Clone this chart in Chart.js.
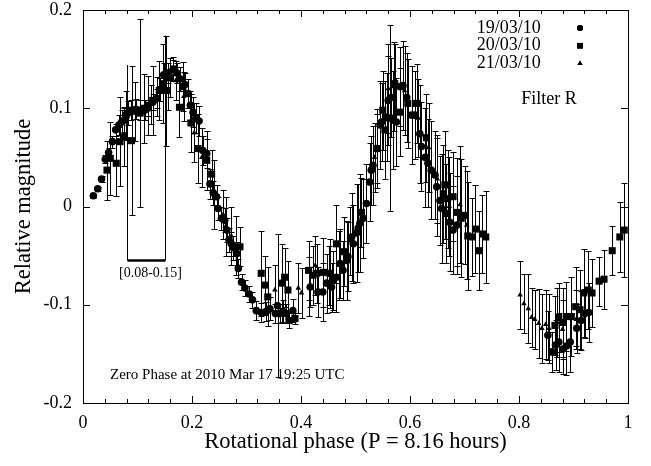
<!DOCTYPE html>
<html>
<head>
<meta charset="utf-8">
<script src="https://cdn.jsdelivr.net/npm/chart.js@4"></script>
<style>
  html, body { margin: 0; padding: 0; background: #fff; }
  #wrap { width: 651px; height: 466px; }
</style>
</head>
<body>
<div id="wrap"><canvas id="myChart"></canvas></div>
<script>
// night labels
const nights = ['19/03/10', '20/03/10', '21/03/10'];

// 19/03/10 : phase, relative magnitude, error
const phase_19 = [0.019, 0.027, 0.034, 0.041, 0.047, 0.054, 0.060, 0.066, 0.071, 0.076, 0.082, 0.088, 0.097, 0.104, 0.113, 0.119, 0.128, 0.135, 0.141, 0.148, 0.156, 0.165, 0.172, 0.178, 0.187, 0.193, 0.197, 0.202, 0.207, 0.213, 0.220, 0.227, 0.233, 0.239, 0.245, 0.248, 0.254, 0.260, 0.264, 0.268, 0.272, 0.276, 0.282, 0.285, 0.291, 0.297, 0.305, 0.311, 0.318, 0.327, 0.336, 0.343, 0.353, 0.357, 0.361, 0.367, 0.373, 0.385,
  0.417, 0.431, 0.440, 0.447, 0.456, 0.459, 0.465, 0.472, 0.477, 0.484, 0.486, 0.493, 0.496, 0.502, 0.505, 0.508, 0.514, 0.520, 0.526, 0.529, 0.532, 0.539, 0.545, 0.548, 0.557, 0.560, 0.566, 0.569, 0.575, 0.582, 0.587, 0.594, 0.603, 0.609, 0.618, 0.621, 0.628, 0.633, 0.639, 0.646, 0.649, 0.655, 0.658, 0.666, 0.673, 0.679, 0.686,
  0.853, 0.860, 0.867, 0.873, 0.881, 0.887, 0.894, 0.906, 0.914, 0.921, 0.928];
const mag_19 = [0.011, 0.018, 0.028, 0.048, 0.055, 0.066, 0.078, 0.083, 0.086, 0.088, 0.095, 0.098, 0.099, 0.098, 0.098, 0.100, 0.106, 0.110, 0.119, 0.134, 0.136, 0.139, 0.136, 0.130, 0.124, 0.115, 0.103, 0.096, 0.090, 0.087, 0.057, 0.054, 0.023, 0.014, 0.010, -0.002, -0.012, -0.014, -0.024, -0.034, -0.038, -0.042, -0.048, -0.063, -0.077, -0.083, -0.089, -0.095, -0.106, -0.108, -0.107, -0.104, -0.109, -0.101, -0.109, -0.107, -0.109, -0.106,
  -0.082, -0.087, -0.087, -0.078, -0.082, -0.075, -0.072, -0.058, -0.065, -0.055, -0.051, -0.031, -0.038, -0.027, -0.022, -0.017, -0.012, 0.003, 0.025, 0.037, 0.042, 0.059, 0.083, 0.086, 0.091, 0.108, 0.111, 0.088, 0.086, 0.122, 0.123, 0.111, 0.093, 0.093, 0.074, 0.061, 0.050, 0.044, 0.037, 0.032, 0.020, 0.006, -0.002, -0.007, -0.016, -0.024, -0.019,
  -0.131, -0.148, -0.141, -0.138, -0.145, -0.142, -0.138, -0.124, -0.116, -0.109, -0.108];
const err_19 = [0.002, 0.002, 0.003, 0.004, 0.005, 0.006, 0.006, 0.010, 0.012, 0.012, 0.012, 0.010, 0.010, 0.010, 0.010, 0.008, 0.008, 0.010, 0.012, 0.012, 0.010, 0.010, 0.010, 0.012, 0.012, 0.015, 0.015, 0.015, 0.015, 0.015, 0.015, 0.015, 0.015, 0.012, 0.012, 0.012, 0.012, 0.012, 0.012, 0.012, 0.012, 0.012, 0.012, 0.010, 0.008, 0.008, 0.008, 0.008, 0.010, 0.010, 0.010, 0.012, 0.010, 0.073, 0.010, 0.012, 0.010, 0.012,
  0.020, 0.025, 0.030, 0.030, 0.025, 0.030, 0.035, 0.035, 0.030, 0.040, 0.035, 0.045, 0.040, 0.050, 0.045, 0.050, 0.040, 0.040, 0.040, 0.035, 0.040, 0.040, 0.045, 0.040, 0.045, 0.045, 0.040, 0.050, 0.045, 0.040, 0.045, 0.045, 0.050, 0.045, 0.050, 0.045, 0.050, 0.045, 0.050, 0.045, 0.050, 0.045, 0.055, 0.050, 0.050, 0.045, 0.050,
  0.025, 0.020, 0.025, 0.030, 0.025, 0.030, 0.030, 0.025, 0.030, 0.025, 0.030];

// 20/03/10
const phase_20 = [0.044, 0.050, 0.061, 0.068, 0.076, 0.079, 0.089, 0.096, 0.105, 0.112, 0.120, 0.128, 0.140, 0.146, 0.153, 0.160, 0.166, 0.177, 0.183, 0.198, 0.211, 0.227, 0.236, 0.288,
  0.327, 0.334, 0.339, 0.365, 0.370, 0.376, 0.378, 0.389, 0.414, 0.422, 0.429, 0.441, 0.453, 0.465, 0.479, 0.511,
  0.539, 0.550, 0.554, 0.563, 0.572, 0.582, 0.596, 0.612, 0.630, 0.661, 0.664, 0.669, 0.679, 0.686, 0.694, 0.701, 0.706, 0.714, 0.720, 0.726, 0.733, 0.739,
  0.866, 0.873, 0.881, 0.887, 0.896, 0.904, 0.912, 0.919, 0.927, 0.934, 0.947, 0.956, 0.971, 0.985, 0.993];
const mag_20 = [0.037, 0.049, 0.044, 0.066, 0.071, 0.093, 0.067, 0.097, 0.095, 0.100, 0.103, 0.108, 0.118, 0.125, 0.118, 0.131, 0.140, 0.101, 0.122, 0.085, 0.059, 0.047, 0.033, -0.041,
  -0.068, -0.080, -0.092, -0.078, -0.072, -0.085, -0.116, -0.114, -0.065, -0.070, -0.068, -0.067, -0.068, -0.038, -0.046, -0.006,
  0.059, 0.098, 0.078, 0.090, 0.125, 0.096, 0.105, 0.105, 0.070, 0.013, 0.022, 0.008, 0.010, -0.006, -0.012, -0.009, -0.030, -0.031, -0.023, -0.045, -0.028, -0.031,
  -0.121, -0.113, -0.118, -0.112, -0.112, -0.102, -0.105, -0.088, -0.085, -0.088, -0.076, -0.074, -0.045, -0.031, -0.024];
const err_20 = [0.030, 0.037, 0.033, 0.045, 0.030, 0.025, 0.076, 0.030, 0.096, 0.035, 0.030, 0.035, 0.030, 0.040, 0.056, 0.020, 0.012, 0.030, 0.025, 0.030, 0.035, 0.030, 0.025, 0.020,
  0.043, 0.030, 0.030, 0.040, 0.030, 0.030, 0.008, 0.006, 0.030, 0.030, 0.030, 0.035, 0.035, 0.040, 0.035, 0.035,
  0.035, 0.040, 0.050, 0.095, 0.040, 0.045, 0.045, 0.040, 0.045, 0.050, 0.055, 0.050, 0.045, 0.055, 0.060, 0.050, 0.055, 0.040, 0.045, 0.040, 0.040, 0.047,
  0.030, 0.035, 0.035, 0.035, 0.040, 0.040, 0.040, 0.045, 0.040, 0.035, 0.025, 0.030, 0.025, 0.036, 0.048];

// 21/03/10
const phase_21 = [0.124, 0.136, 0.156, 0.170, 0.185, 0.204, 0.218, 0.240, 0.257, 0.262, 0.272, 0.280, 0.352, 0.395, 0.401, 0.415, 0.426, 0.452, 0.470, 0.490,
  0.535, 0.560, 0.570, 0.590, 0.615, 0.634, 0.650, 0.672, 0.692, 0.704,
  0.802, 0.809, 0.817, 0.823, 0.829, 0.836, 0.842, 0.849, 0.855, 0.870, 0.880, 0.905];
const mag_21 = [0.104, 0.112, 0.118, 0.128, 0.112, 0.075, 0.050, 0.012, -0.008, -0.020, -0.030, -0.040, -0.085, -0.083, -0.088, -0.081, -0.060, -0.070, -0.060, -0.035,
  0.050, 0.120, 0.122, 0.118, 0.090, 0.060, 0.028, 0.000, 0.002, -0.019,
  -0.090, -0.099, -0.104, -0.113, -0.115, -0.119, -0.124, -0.120, -0.124, -0.118, -0.125, -0.115];
const err_21 = [0.020, 0.020, 0.020, 0.020, 0.025, 0.030, 0.030, 0.035, 0.025, 0.030, 0.030, 0.030, 0.025, 0.025, 0.025, 0.030, 0.030, 0.030, 0.035, 0.035,
  0.035, 0.045, 0.045, 0.045, 0.040, 0.045, 0.045, 0.050, 0.060, 0.055,
  0.035, 0.030, 0.035, 0.030, 0.030, 0.035, 0.035, 0.035, 0.035, 0.035, 0.030, 0.030];

// axis ticks
const x_tick_labels = ['0', '0.2', '0.4', '0.6', '0.8', '1'];
const y_tick_labels = ['-0.2', '-0.1', '0', '0.1', '0.2'];

// annotations
const bracket_range = [0.08, 0.15];
const bracket_tops = [0.144, 0.174];
const bracket_level = -0.055;
const bracket_label = '[0.08-0.15]';
const zero_phase_text = 'Zero Phase at 2010 Mar 17 19:25 UTC';
const filter_text = 'Filter R';

const serif = "'Liberation Serif', 'Times New Roman', serif";

function make_points(px, py) {
    return px.map((v, i) => ({x: v, y: py[i]}));
}

// vertical error bars with small caps
const error_bars = {
    id: 'error_bars',
    beforeDatasetsDraw(chart) {
        const {ctx, scales: {x, y}} = chart;
        ctx.save();
        ctx.strokeStyle = '#000';
        ctx.lineWidth = 1;
        chart.data.datasets.forEach(ds => {
            ds.data.forEach((p, i) => {
                const e = ds.errors[i];
                const px = Math.round(x.getPixelForValue(p.x)) + 0.5;
                const top = Math.round(y.getPixelForValue(p.y + e)) + 0.5;
                const bot = Math.round(y.getPixelForValue(p.y - e)) + 0.5;
                ctx.beginPath();
                ctx.moveTo(px, top); ctx.lineTo(px, bot);
                ctx.moveTo(px - 3, top); ctx.lineTo(px + 3, top);
                ctx.moveTo(px - 3, bot); ctx.lineTo(px + 3, bot);
                ctx.stroke();
            });
        });
        ctx.restore();
    }
};

// frame, inward ticks, legend and labels (gnuplot look)
const frame = {
    id: 'frame',
    afterDraw(chart) {
        const {ctx, chartArea: a, scales: {x, y}} = chart;
        ctx.save();
        ctx.strokeStyle = '#000';
        ctx.lineWidth = 1;
        ctx.strokeRect(a.left + 0.5, a.top + 0.5, a.right - a.left, a.bottom - a.top);
        ctx.beginPath();
        for (let k = 0; k <= 25; k++) {
            const v = k * 0.04;
            const px = Math.round(x.getPixelForValue(v)) + 0.5;
            const len = (k % 5 === 0) ? 7 : 4;
            ctx.moveTo(px, a.bottom); ctx.lineTo(px, a.bottom - len);
            ctx.moveTo(px, a.top); ctx.lineTo(px, a.top + len);
        }
        y.ticks.forEach(t => {
            const py = Math.round(y.getPixelForValue(t.value)) + 0.5;
            ctx.moveTo(a.left, py); ctx.lineTo(a.left + 7, py);
            ctx.moveTo(a.right, py); ctx.lineTo(a.right - 7, py);
        });
        ctx.stroke();

        // bracket
        const bx0 = Math.round(x.getPixelForValue(bracket_range[0])) + 0.5;
        const bx1 = Math.round(x.getPixelForValue(bracket_range[1])) + 0.5;
        const by = y.getPixelForValue(bracket_level);
        ctx.beginPath();
        ctx.moveTo(bx0, by); ctx.lineTo(bx0, y.getPixelForValue(bracket_tops[0]));
        ctx.moveTo(bx1, by); ctx.lineTo(bx1, y.getPixelForValue(bracket_tops[1]));
        ctx.stroke();
        ctx.lineWidth = 2.5;
        ctx.beginPath();
        ctx.moveTo(bx0, by); ctx.lineTo(bx1, by);
        ctx.stroke();

        ctx.fillStyle = '#000';
        ctx.textBaseline = 'middle';
        ctx.font = '14px ' + serif;
        ctx.textAlign = 'center';
        ctx.fillText(bracket_label, (bx0 + bx1) / 2 + 4, by + 13);

        ctx.font = '15px ' + serif;
        ctx.textAlign = 'left';
        ctx.fillText(zero_phase_text, x.getPixelForValue(0.0495), y.getPixelForValue(-0.172));

        ctx.font = '18px ' + serif;
        ctx.textAlign = 'right';
        ctx.fillText(filter_text, x.getPixelForValue(0.906), y.getPixelForValue(0.109));

        // legend
        const styles = ['circle', 'rect', 'triangle'];
        const sizes = [3, 4, 3];
        nights.forEach((n, i) => {
            const ly = y.getPixelForValue(0.1817 - i * 0.0181);
            ctx.textAlign = 'right';
            ctx.fillText(n, x.getPixelForValue(0.840), ly);
            Chart.helpers.drawPoint(ctx, {pointStyle: styles[i], radius: sizes[i], rotation: 0, borderWidth: 0},
                x.getPixelForValue(0.912), ly);
            ctx.fill();
        });
        ctx.restore();
    }
};

function draw_chart() {
    const ctx = document.getElementById('myChart');
    new Chart(ctx, {
        type: 'scatter',
        data: {
            datasets: [{
                label: nights[0],
                data: make_points(phase_19, mag_19),
                errors: err_19,
                pointStyle: 'circle',
                pointRadius: 3.8,
                backgroundColor: '#000',
                borderWidth: 0
            }, {
                label: nights[1],
                data: make_points(phase_20, mag_20),
                errors: err_20,
                pointStyle: 'rect',
                pointRadius: 5,
                backgroundColor: '#000',
                borderWidth: 0
            }, {
                label: nights[2],
                data: make_points(phase_21, mag_21),
                errors: err_21,
                pointStyle: 'triangle',
                pointRadius: 3.2,
                backgroundColor: '#000',
                borderWidth: 0
            }]
        },
        options: {
            responsive: true,
            maintainAspectRatio: false,
            animation: false,
            layout: {
                padding: {top: 10, right: 23, left: 0, bottom: 0}
            },
            plugins: {
                legend: {display: false},
                tooltip: {enabled: false}
            },
            scales: {
                x: {
                    type: 'linear',
                    min: 0,
                    max: 1,
                    afterFit: function(scale) {
                        scale.height = 63;
                        scale.paddingLeft = 0;
                        scale.paddingRight = 0;
                    },
                    grid: {display: false, drawTicks: false},
                    border: {display: false},
                    ticks: {
                        stepSize: 0.2,
                        padding: 9,
                        color: '#000',
                        font: {family: serif, size: 18},
                        callback: function(value, index) {
                            return x_tick_labels[index];
                        }
                    },
                    title: {
                        display: true,
                        text: 'Rotational phase (P = 8.16 hours)',
                        color: '#000',
                        font: {family: serif, size: 22.5},
                        padding: {bottom: 10.5, top: 0}
                    }
                },
                y: {
                    type: 'linear',
                    min: -0.2,
                    max: 0.2,
                    afterFit: function(scale) {
                        scale.width = 83;
                        scale.paddingTop = 0;
                        scale.paddingBottom = 0;
                    },
                    grid: {display: false, drawTicks: false},
                    border: {display: false},
                    ticks: {
                        stepSize: 0.1,
                        padding: 11,
                        color: '#000',
                        font: {family: serif, size: 18, lineHeight: 1},
                        callback: function(value, index) {
                            return y_tick_labels[index];
                        }
                    },
                    title: {
                        display: true,
                        text: 'Relative magnitude',
                        color: '#000',
                        font: {family: serif, size: 22.5},
                        padding: {top: 10.5, bottom: 0}
                    }
                }
            }
        },
        plugins: [error_bars, frame]
    });
}
draw_chart();
</script>
</body>
</html>
